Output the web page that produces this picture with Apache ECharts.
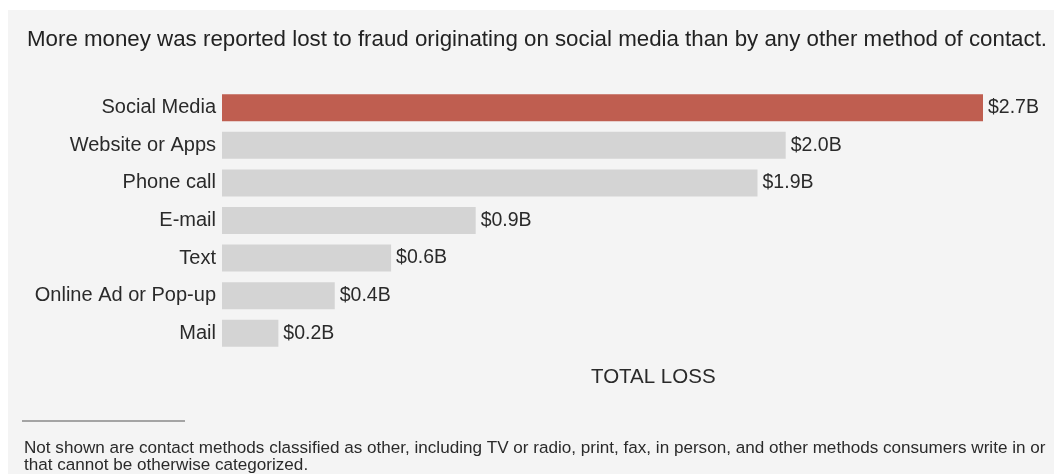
<!DOCTYPE html>
<html>
<head>
<meta charset="utf-8">
<style>
  html, body { margin: 0; padding: 0; background: #ffffff; }
  #chart { width: 1054px; height: 474px; }
</style>
<script src="https://cdn.jsdelivr.net/npm/echarts@6/dist/echarts.min.js"></script>
</head>
<body>
<div id="chart"></div>
<script>
// Reported fraud losses by method of contact, billions of dollars
const categories = ['Social Media', 'Website or Apps', 'Phone call', 'E-mail', 'Text', 'Online Ad or Pop-up', 'Mail'];
const losses = [2.7, 2.0, 1.9, 0.9, 0.6, 0.4, 0.2];
const highlighted = 'Social Media';

const titleText = 'More money was reported lost to fraud originating on social media than by any other method of contact.';
const axisTitle = 'TOTAL LOSS';
const footnoteLines = [
  'Not shown are contact methods classified as other, including TV or radio, print, fax, in person, and other methods consumers write in or',
  'that cannot be otherwise categorized.'
];

const FONT = '"Liberation Sans", Arial, sans-serif';
const chart = echarts.init(document.getElementById('chart'), null, { renderer: 'canvas' });

chart.setOption({
  backgroundColor: '#ffffff',
  animation: false,
  title: {
    text: titleText,
    left: 22,
    top: 24,
    padding: 5,
    textStyle: { fontFamily: FONT, fontSize: 22.3, fontWeight: 'normal', color: '#222222' }
  },
  grid: { left: 222, right: 71, top: 89, height: 263, containLabel: false },
  xAxis: {
    type: 'value',
    min: 0,
    max: 2.7,
    show: false
  },
  yAxis: {
    type: 'category',
    data: categories,
    inverse: true,
    axisLine: { show: false },
    axisTick: { show: false },
    axisLabel: { fontFamily: FONT, fontSize: 20, color: '#2a2a2a', margin: 6 }
  },
  series: [{
    type: 'bar',
    barWidth: 27,
    data: losses.map((v, i) => ({
      value: v,
      itemStyle: { color: categories[i] === highlighted ? '#bf5e50' : '#d4d4d4' }
    })),
    label: {
      show: true,
      position: 'right',
      distance: 5,
      fontFamily: FONT,
      fontSize: 19.5,
      color: '#2a2a2a',
      formatter: p => '$' + p.value.toFixed(1) + 'B'
    }
  }],
  graphic: [
    { type: 'rect', z: -10, shape: { x: 8, y: 10, width: 1046, height: 464 }, style: { fill: '#f4f4f4' } },
    { type: 'text', left: 591, top: 367, style: { text: axisTitle, font: '20.5px ' + FONT, fill: '#2a2a2a' } },
    { type: 'line', shape: { x1: 22, y1: 421, x2: 185, y2: 421 }, style: { stroke: '#555555', lineWidth: 1.2 } },
    { type: 'text', left: 24, top: 440, style: { text: footnoteLines.join('\n'), font: '17.1px ' + FONT, lineHeight: 17, fill: '#2a2a2a' } }
  ]
});
</script>
</body>
</html>
